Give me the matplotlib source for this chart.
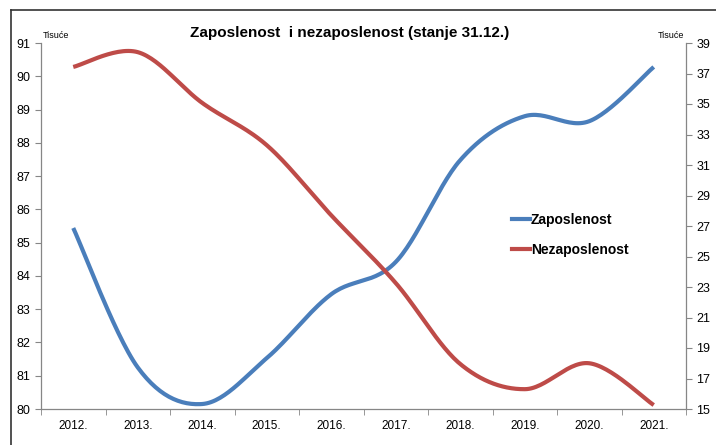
import numpy as np
import matplotlib
matplotlib.use("Agg")
import matplotlib.pyplot as plt
from matplotlib.lines import Line2D

years = ["2012.", "2013.", "2014.", "2015.", "2016.", "2017.", "2018.", "2019.", "2020.", "2021."]
zaposlenost = [85.44, 81.25, 80.15, 81.53, 83.45, 84.42, 87.48, 88.8, 88.65, 90.28]
nezaposlenost = [37.43, 38.4, 35.07, 32.3, 27.7, 23.26, 17.95, 16.3, 18.0, 15.26]

left_ticks = list(range(80, 92))
right_ticks = list(range(15, 40, 2))

BLUE = "#4a7ebb"
RED = "#be4b48"
GRAY = "#868686"


def smooth(x, y, n=30):
    """Excel-like smoothed line (Catmull-Rom through the points)."""
    x = np.asarray(x, float)
    y = np.asarray(y, float)
    px = np.concatenate([[x[0]], x, [x[-1]]])
    py = np.concatenate([[y[0]], y, [y[-1]]])
    xs, ys = [], []
    t = np.linspace(0, 1, n)
    for i in range(1, len(px) - 2):
        p0, p1, p2, p3 = (np.array([px[j], py[j]]) for j in (i - 1, i, i + 1, i + 2))
        c1 = p1 + (p2 - p0) / 6
        c2 = p2 - (p3 - p1) / 6
        b = ((1 - t) ** 3)[:, None] * p1 + (3 * (1 - t) ** 2 * t)[:, None] * c1 \
            + (3 * (1 - t) * t ** 2)[:, None] * c2 + (t ** 3)[:, None] * p2
        xs.extend(b[:, 0])
        ys.extend(b[:, 1])
    return np.array(xs), np.array(ys)


fig = plt.figure(figsize=(7.16, 4.45), dpi=100)
plt.rcParams['font.family'] = ['Liberation Sans', 'DejaVu Sans']

ax = fig.add_axes([41 / 716, 1 - 409 / 445, (686 - 41) / 716, (409 - 43) / 445])
ax2 = ax.twinx()

x = np.arange(len(years))
sx, sy = smooth(x, zaposlenost)
ax.plot(sx, sy, color=BLUE, lw=3, solid_capstyle="butt", label="Zaposlenost")
sx2, sy2 = smooth(x, nezaposlenost)
ax2.plot(sx2, sy2, color=RED, lw=3, solid_capstyle="butt", label="Nezaposlenost")

ax.set_xlim(-0.5, len(years) - 0.5)
ax.set_ylim(80, 91)
ax2.set_ylim(15, 39)
ax.set_yticks(left_ticks)
ax2.set_yticks(right_ticks)
ax.set_xticks(x)
ax.set_xticklabels(years)
ax.set_xticks(np.arange(-0.5, len(years)), minor=True)
ax.tick_params(axis="x", which="major", length=0, labelsize=8.5, pad=8)
ax.tick_params(axis="x", which="minor", length=4, color=GRAY, direction="out")
ax.tick_params(axis="y", length=4, color=GRAY, labelsize=9, direction="out")
ax2.tick_params(axis="y", length=4, color=GRAY, labelsize=9, direction="out")

for a in (ax, ax2):
    a.spines["top"].set_visible(False)
    for s in ("left", "right", "bottom"):
        a.spines[s].set_color(GRAY)
        a.spines[s].set_linewidth(0.9)
ax.spines["right"].set_visible(False)
ax2.spines["left"].set_visible(False)
ax2.spines["bottom"].set_visible(False)

fig.text(350 / 716, 1 - 33 / 445, "Zaposlenost  i nezaposlenost (stanje 31.12.)",
         ha="center", va="center", fontsize=11, fontweight="bold")
fig.text(56 / 716, 1 - 36 / 445, "Tisuće", ha="center", va="center", fontsize=6.5)
fig.text(671 / 716, 1 - 36 / 445, "Tisuće", ha="center", va="center", fontsize=6.5)

handles = [Line2D([], [], color=BLUE, lw=3), Line2D([], [], color=RED, lw=3)]
fig.legend(handles, ["Zaposlenost", "Nezaposlenost"], loc="center left",
           bbox_to_anchor=(499 / 716, 1 - 235 / 445), frameon=False,
           handlelength=1.3, handletextpad=0.1, labelspacing=1.2,
           prop={"weight": "bold", "size": 10})

fig.add_artist(Line2D([11 / 716, 1], [1 - 10 / 445, 1 - 10 / 445], color="#333333", lw=1.2,
                      transform=fig.transFigure))
fig.add_artist(Line2D([11 / 716, 11 / 716], [0, 1 - 10 / 445], color="#333333", lw=1.2,
                      transform=fig.transFigure))

fig.savefig("out.png", dpi=100)
